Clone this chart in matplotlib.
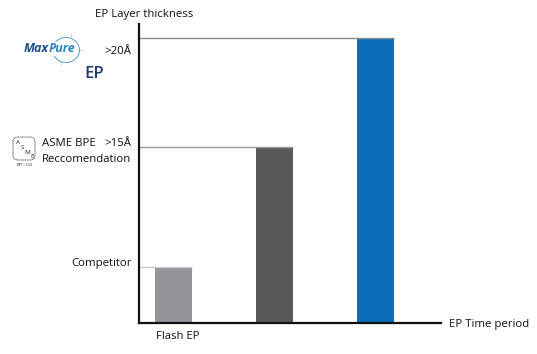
import matplotlib
matplotlib.use('Agg')
import matplotlib.pyplot as plt
from matplotlib.patches import Ellipse, FancyBboxPatch
from matplotlib.transforms import ScaledTranslation

W, H = 537, 354

# schematic heights, the y axis of the original has no real scale
categories = ['Flash EP', '', '']
thickness = [3.93, 12.35, 20.0]
bar_colors = ['#939598', '#58595b', '#0a6ebd']
ref_colors = ['#c8c8c8', '#9a9a9a', '#8a8a8a']

plt.rcParams['font.family'] = ['Open Sans', 'DejaVu Sans']

fig = plt.figure(figsize=(W / 100, H / 100), dpi=100)

# chart axes, placed on the pixel grid of the reference
left, right, top, bottom = 138.5, 441.0, 24.0, 323.0
ax = fig.add_axes([left / W, 1 - bottom / H, (right - left) / W, (bottom - top) / H])
ax.set_xlim(-0.352, 2.65)
ax.set_ylim(0, 20 * (bottom - top) / 285.0)

xs = list(range(len(thickness)))
ax.bar(xs, thickness, width=0.367, color=bar_colors, zorder=2)
for x, t, c in zip(xs, thickness, ref_colors):
    ax.plot([-0.352, x + 0.1835], [t, t], color=c, lw=1.0, zorder=3, solid_capstyle='butt')

for s in ['top', 'right']:
    ax.spines[s].set_visible(False)
for s in ['left', 'bottom']:
    ax.spines[s].set_linewidth(1.6)
    ax.spines[s].set_color('#111111')
    ax.spines[s].set_zorder(4)
ax.set_yticks([])
ax.set_xticks(xs)
ax.set_xticklabels(categories, fontsize=8.1, color='#111111')
ax.tick_params(axis='x', length=0, pad=5.9)
# the label sits a little right of the bar centre
for lab in ax.get_xticklabels():
    lab.set_transform(lab.get_transform() + ScaledTranslation(3.5 / 100, 0, fig.dpi_scale_trans))

# overlay in pixel coordinates for labels and logos
ov = fig.add_axes([0, 0, 1, 1], zorder=5)
ov.set_xlim(0, W)
ov.set_ylim(H, 0)
ov.axis('off')
ov.patch.set_alpha(0)

def label(x, y, s, ha='right', size=8.2, **kw):
    ov.text(x, y, s, ha=ha, va='center', fontsize=size, color=kw.pop('color', '#111111'), **kw)

label(95, 14, 'EP Layer thickness', ha='left')
label(449, 324.5, 'EP Time period', ha='left')
label(131, 51, '>20Å')
label(131, 143.5, '>15Å')
label(42, 143.5, 'ASME BPE', ha='left')
label(131, 159.5, 'Reccomendation')
label(132, 263.5, 'Competitor')

# MaxPure logo
ov.add_patch(Ellipse((66, 50), 27, 25, fill=False, ec='#3f8fca', lw=0.6))
ov.plot([70.5, 70.5], [34, 37], color='#8fb8d8', lw=0.4)
ov.plot([61, 61], [62, 65], color='#8fb8d8', lw=0.4)
ov.plot([78, 83], [49.5, 49.5], color='#8fb8d8', lw=0.4)
ov.text(24, 49, 'Max', ha='left', va='center', fontsize=9, fontweight='bold', style='italic',
        color='#1b4f8a')
ov.text(49, 49, 'Pure', ha='left', va='center', fontsize=9, fontweight='bold', style='italic',
        color='#2f86c6', bbox=dict(fc='white', ec='none', pad=0.2))
label(84, 74, 'EP', ha='left', size=12, color='#1f3a6b', fontweight='semibold')

# ASME logo
ov.add_patch(FancyBboxPatch((15, 139), 18, 19, boxstyle='round,pad=2,rounding_size=5',
                            fill=False, ec='#333333', lw=0.5, ls=(0, (2, 0.6))))
for (x, y, ch) in [(18, 143, 'A'), (22.5, 147.5, 'S'), (27, 152, 'M'), (32, 156.5, 'E')]:
    ov.text(x, y, ch, ha='center', va='center', fontsize=4.6, color='#222222')
ov.text(25, 165, 'BPC-102', ha='center', va='center', fontsize=3, color='#333333')

fig.savefig('out.png', dpi=100)
